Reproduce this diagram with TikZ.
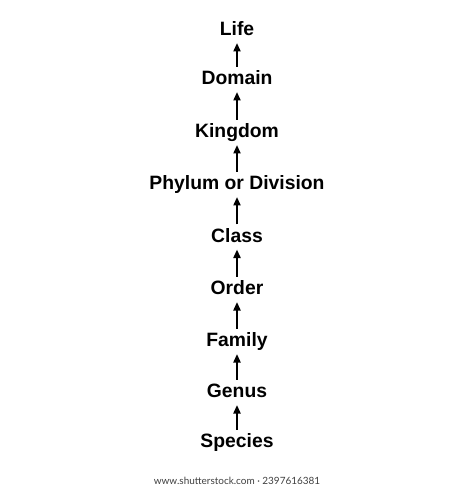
\documentclass[tikz,border=0pt]{standalone}
\usepackage{fontspec}
\setmainfont{Liberation Sans}
\newfontfamily\footfont{Lato}
\usetikzlibrary{arrows.meta}
\begin{document}
\begin{tikzpicture}[x=1bp,y=-1bp,
  rank/.style={inner sep=0pt, text height=13.8bp, text depth=0pt, anchor=base,
    font=\fontsize{19.4}{23}\selectfont\bfseries},
  up/.style={line width=2bp, -{Triangle[width=7bp,length=8.5bp]},
    shorten <=4bp, shorten >=7bp}]
\useasboundingbox (0,0) rectangle (474,489);
\fill[white] (0,0) rectangle (474,489);
\node[rank] (life)    at (237,35.8)  {Life};
\node[rank] (domain)  at (237,84.8)  {Domain};
\node[rank] (kingdom) at (237,137.8) {Kingdom};
\node[rank] (phylum)  at (237,189.8) {Phylum or Division};
\node[rank] (class)   at (237,242.3) {Class};
\node[rank] (order)   at (237,294.8) {Order};
\node[rank] (family)  at (237,346.8) {Family};
\node[rank] (genus)   at (237,397.8) {Genus};
\node[rank] (species) at (237,447.8) {Species};
\draw[up] (domain.north)  -- (life.south);
\draw[up] (kingdom.north) -- (domain.south);
\draw[up] (phylum.north)  -- (kingdom.south);
\draw[up] (class.north)   -- (phylum.south);
\draw[up] (order.north)   -- (class.south);
\draw[up] (family.north)  -- (order.south);
\draw[up] (genus.north)   -- (family.south);
\draw[up] (species.north) -- (genus.south);
\node[font=\footfont\fontsize{10}{12}\selectfont, text=black!75, inner sep=0pt] (foot) at (237,481) {www.shutterstock.com · 2397616381};
\end{tikzpicture}
\end{document}
